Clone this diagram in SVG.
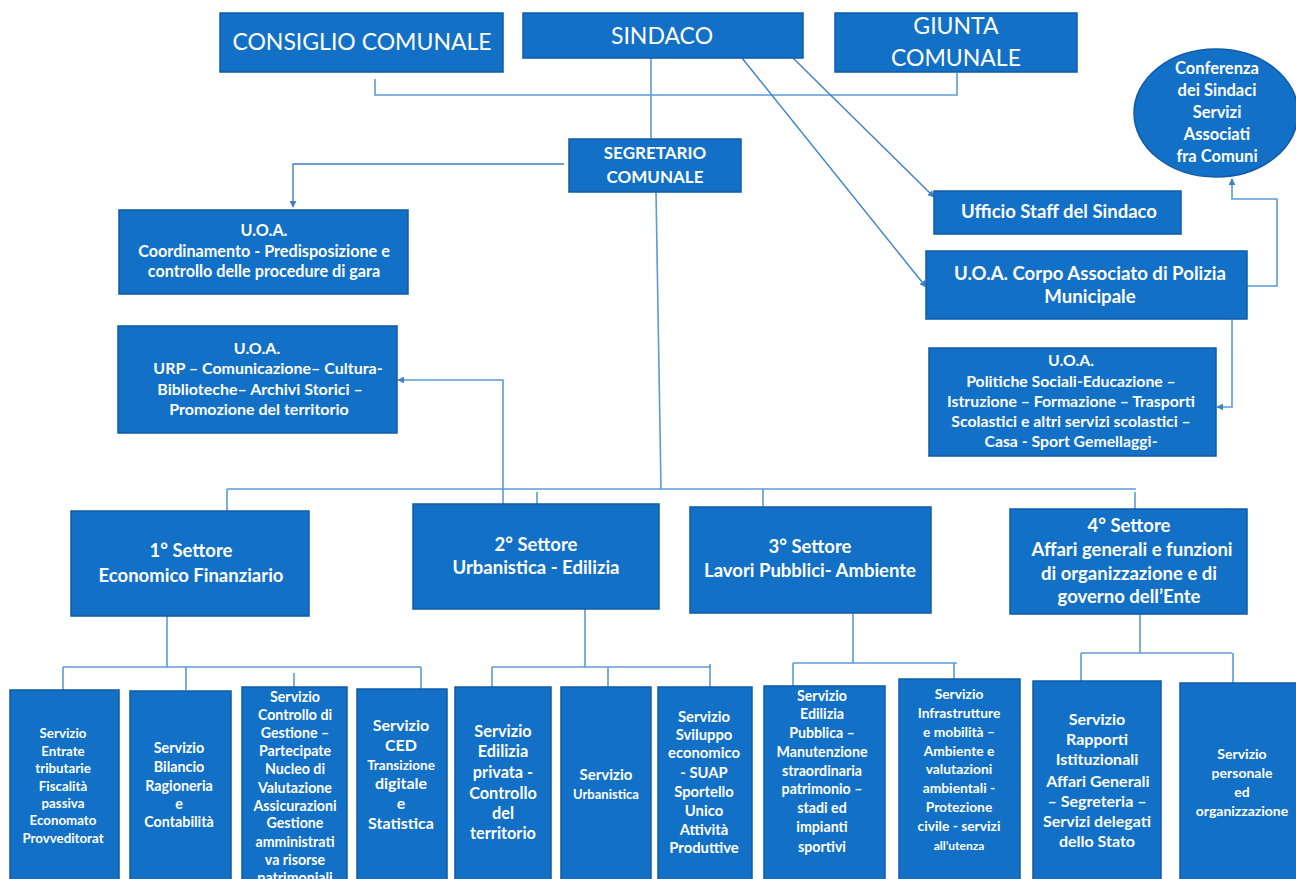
<svg xmlns="http://www.w3.org/2000/svg" width="1296" height="879" viewBox="0 0 1296 879">
<defs>
<marker id="arr" viewBox="0 0 10 10" refX="9" refY="5" markerWidth="7" markerHeight="7" markerUnits="userSpaceOnUse" orient="auto"><path d="M0,0 L10,5 L0,10 z" fill="#3f7fc6"/></marker>
<style>
.box{fill:#1270c6;stroke:#0f5ba6;stroke-width:1.5}
.t{font-family:Lato,"Open Sans","Liberation Sans",sans-serif;fill:#ffffff;text-anchor:middle}
.r{font-weight:normal}
.b{font-weight:bold}
.c{fill:none;stroke:#5b9bd5;stroke-width:1.6}
.a{fill:none;stroke:#3f7fc6;stroke-width:1.4}
</style>
</defs>
<rect width="1296" height="879" fill="#ffffff"/>
<g id="connectors">
<polyline class="c" points="375,79 375,95 957,95 957,73"/>
<line class="c" x1="651" y1="58" x2="651" y2="139"/>
<polyline class="a" points="564,164 293,164 293,207" marker-end="url(#arr)"/>
<line class="a" x1="793" y1="58" x2="934" y2="197" marker-end="url(#arr)"/>
<line class="a" x1="742" y1="58" x2="926" y2="287" marker-end="url(#arr)"/>
<polyline class="c" points="1247,286 1277,286 1277,199 1232,199 1232,179" marker-end="url(#arr)"/>
<polyline class="c" points="1232,319 1232,407 1217,407" marker-end="url(#arr)"/>
<line class="c" x1="656" y1="192" x2="661" y2="489"/>
<line class="c" x1="227" y1="489" x2="1136" y2="489"/>
<line class="c" x1="227" y1="489" x2="227" y2="511"/>
<line class="c" x1="763" y1="489" x2="763" y2="507"/>
<line class="c" x1="1135" y1="492" x2="1135" y2="509"/>
<line class="c" x1="537" y1="492" x2="537" y2="504"/>
<polyline class="c" points="503,504 503,380 398,380" marker-end="url(#arr)"/>
<line class="c" x1="167" y1="616" x2="167" y2="667"/>
<line class="c" x1="63" y1="667" x2="421" y2="667"/>
<line class="c" x1="63" y1="667" x2="63" y2="690"/>
<line class="c" x1="186" y1="667" x2="186" y2="690"/>
<line class="c" x1="421" y1="667" x2="421" y2="689"/>
<line class="c" x1="294" y1="673" x2="294" y2="687"/>
<line class="c" x1="585" y1="609" x2="585" y2="667"/>
<line class="c" x1="492" y1="667" x2="710" y2="667"/>
<line class="c" x1="492" y1="667" x2="492" y2="687"/>
<line class="c" x1="608" y1="667" x2="608" y2="687"/>
<line class="c" x1="710" y1="664" x2="710" y2="687"/>
<line class="c" x1="853" y1="613" x2="853" y2="663"/>
<line class="c" x1="793" y1="663" x2="957" y2="663"/>
<line class="c" x1="793" y1="663" x2="793" y2="686"/>
<line class="c" x1="954" y1="663" x2="954" y2="679"/>
<line class="c" x1="1140" y1="614" x2="1140" y2="653"/>
<line class="c" x1="1081" y1="653" x2="1232" y2="653"/>
<line class="c" x1="1081" y1="653" x2="1081" y2="681"/>
<line class="c" x1="1233" y1="653" x2="1233" y2="683"/>
</g>
<g id="consiglio">
<rect class="box" x="220" y="13" width="283" height="59"/>
<text class="t r" x="362" y="50" font-size="23">CONSIGLIO COMUNALE</text>
</g>
<g id="sindaco">
<rect class="box" x="523" y="13" width="280" height="45"/>
<text class="t r" x="662" y="44" font-size="23">SINDACO</text>
</g>
<g id="giunta">
<rect class="box" x="835" y="13" width="242" height="59"/>
<text class="t r" x="956" y="34" font-size="23">GIUNTA</text>
<text class="t r" x="956" y="66" font-size="23">COMUNALE</text>
</g>
<g id="segretario">
<rect class="box" x="569" y="139" width="172" height="53"/>
<text class="t b" x="655" y="159" font-size="17">SEGRETARIO</text>
<text class="t b" x="655" y="183" font-size="17">COMUNALE</text>
</g>
<g id="uoa-gara">
<rect class="box" x="119" y="210" width="289" height="84"/>
<text class="t b" x="264" y="236" font-size="16.2">U.O.A.</text>
<text class="t b" x="264" y="257" font-size="16.2">Coordinamento - Predisposizione e</text>
<text class="t b" x="264" y="277" font-size="16.2">controllo delle procedure di gara</text>
</g>
<g id="uoa-urp">
<rect class="box" x="118" y="326" width="279" height="107"/>
<text class="t b" x="257" y="354" font-size="16">U.O.A.</text>
<text class="t b" x="268" y="374" font-size="16">URP – Comunicazione– Cultura-</text>
<text class="t b" x="260" y="395" font-size="16">Biblioteche– Archivi Storici –</text>
<text class="t b" x="259" y="415" font-size="16">Promozione del territorio</text>
</g>
<g id="staff">
<rect class="box" x="934" y="191" width="247" height="43"/>
<text class="t b" x="1059" y="218" font-size="18.5">Ufficio Staff del Sindaco</text>
</g>
<g id="polizia">
<rect class="box" x="926" y="251" width="321" height="68"/>
<text class="t b" x="1090" y="280" font-size="18.6">U.O.A. Corpo Associato di Polizia</text>
<text class="t b" x="1090" y="303" font-size="18.6">Municipale</text>
</g>
<g id="conferenza">
<ellipse class="box" cx="1216" cy="113" rx="82" ry="64"/>
<text class="t b" x="1217" y="74" font-size="16.5">Conferenza</text>
<text class="t b" x="1217" y="96" font-size="16.5">dei Sindaci</text>
<text class="t b" x="1217" y="118" font-size="16.5">Servizi</text>
<text class="t b" x="1217" y="140" font-size="16.5">Associati</text>
<text class="t b" x="1217" y="162" font-size="16.5">fra Comuni</text>
</g>
<g id="politiche">
<rect class="box" x="929" y="348" width="287" height="108"/>
<text class="t b" x="1071" y="366" font-size="15.8">U.O.A.</text>
<text class="t b" x="1071" y="387" font-size="15.8">Politiche Sociali-Educazione –</text>
<text class="t b" x="1071" y="407" font-size="15.8">Istruzione – Formazione – Trasporti</text>
<text class="t b" x="1071" y="427" font-size="15.8">Scolastici e altri servizi scolastici  –</text>
<text class="t b" x="1071" y="447" font-size="15.8">Casa - Sport Gemellaggi-</text>
</g>
<g id="settore1">
<rect class="box" x="71" y="511" width="238" height="105"/>
<text class="t b" x="191" y="557" font-size="18.5">1° Settore</text>
<text class="t b" x="191" y="582" font-size="18.5">Economico Finanziario</text>
</g>
<g id="settore2">
<rect class="box" x="413" y="504" width="246" height="105"/>
<text class="t b" x="536" y="551" font-size="18.5">2° Settore</text>
<text class="t b" x="536" y="574" font-size="18.5">Urbanistica - Edilizia</text>
</g>
<g id="settore3">
<rect class="box" x="690" y="507" width="241" height="106"/>
<text class="t b" x="810" y="553" font-size="18.5">3° Settore</text>
<text class="t b" x="810" y="577" font-size="18.5">Lavori Pubblici- Ambiente</text>
</g>
<g id="settore4">
<rect class="box" x="1010" y="509" width="237" height="105"/>
<text class="t b" x="1129" y="532" font-size="18.5">4° Settore</text>
<text class="t b" x="1132" y="556" font-size="18.5">Affari generali e funzioni</text>
<text class="t b" x="1129" y="580" font-size="18.5">di organizzazione e di</text>
<text class="t b" x="1129" y="603" font-size="18.5">governo dell’Ente</text>
</g>
<g id="s-entrate">
<rect class="box" x="10" y="690" width="109" height="200"/>
<g class="t b" font-size="13.3">
<text x="63" y="738">Servizio</text>
<text x="63" y="756">Entrate</text>
<text x="63" y="773">tributarie</text>
<text x="63" y="791">Fiscalità</text>
<text x="63" y="808">passiva</text>
<text x="63" y="825">Economato</text>
<text x="63" y="843">Provveditorat</text>
</g>
</g>
<g id="s-bilancio">
<rect class="box" x="130" y="691" width="101" height="200"/>
<g class="t b" font-size="14.3">
<text x="179" y="753">Servizio</text>
<text x="179" y="772">Bilancio</text>
<text x="179" y="791">Ragioneria</text>
<text x="179" y="809">e</text>
<text x="179" y="827">Contabilità</text>
</g>
</g>
<g id="s-controllo">
<rect class="box" x="242" y="687" width="105" height="200"/>
<g class="t b" font-size="14.2">
<text x="295" y="702">Servizio</text>
<text x="295" y="720">Controllo di</text>
<text x="295" y="738">Gestione –</text>
<text x="295" y="756">Partecipate</text>
<text x="295" y="774">Nucleo di</text>
<text x="295" y="793">Valutazione</text>
<text x="295" y="811">Assicurazioni</text>
<text x="295" y="828">Gestione</text>
<text x="295" y="847">amministrati</text>
<text x="295" y="865">va risorse</text>
<text x="295" y="883">patrimoniali</text>
</g>
</g>
<g id="s-ced">
<rect class="box" x="357" y="689" width="90" height="200"/>
<g class="t b">
<text x="401" y="731" font-size="16">Servizio</text>
<text x="401" y="751" font-size="16">CED</text>
<text x="401" y="770" font-size="13.5">Transizione</text>
<text x="401" y="789" font-size="16">digitale</text>
<text x="401" y="809" font-size="16">e</text>
<text x="401" y="829" font-size="16">Statistica</text>
</g>
</g>
<g id="s-edilizia-privata">
<rect class="box" x="455" y="687" width="96" height="200"/>
<g class="t b" font-size="16.3">
<text x="503" y="737">Servizio</text>
<text x="503" y="757">Edilizia</text>
<text x="503" y="778">privata -</text>
<text x="503" y="799">Controllo</text>
<text x="503" y="819">del</text>
<text x="503" y="839">territorio</text>
</g>
</g>
<g id="s-urbanistica">
<rect class="box" x="561" y="687" width="90" height="200"/>
<g class="t b">
<text x="606" y="780" font-size="15">Servizio</text>
<text x="606" y="799" font-size="13">Urbanistica</text>
</g>
</g>
<g id="s-suap">
<rect class="box" x="658" y="687" width="94" height="200"/>
<g class="t b" font-size="14.8">
<text x="704" y="722">Servizio</text>
<text x="704" y="740">Sviluppo</text>
<text x="704" y="758">economico</text>
<text x="704" y="778">- SUAP</text>
<text x="704" y="797">Sportello</text>
<text x="704" y="816">Unico</text>
<text x="704" y="835">Attività</text>
<text x="704" y="853">Produttive</text>
</g>
</g>
<g id="s-edilizia-pubblica">
<rect class="box" x="764" y="686" width="121" height="200"/>
<g class="t b" font-size="14.2">
<text x="822" y="701">Servizio</text>
<text x="822" y="719">Edilizia</text>
<text x="822" y="738">Pubblica  –</text>
<text x="822" y="757">Manutenzione</text>
<text x="822" y="776">straordinaria</text>
<text x="822" y="794">patrimonio  –</text>
<text x="822" y="813">stadi ed</text>
<text x="822" y="832">impianti</text>
<text x="822" y="852">sportivi</text>
</g>
</g>
<g id="s-infrastrutture">
<rect class="box" x="899" y="679" width="121" height="210"/>
<g class="t b" font-size="13.8">
<text x="959" y="699">Servizio</text>
<text x="959" y="718">Infrastrutture</text>
<text x="959" y="737">e mobilità  –</text>
<text x="959" y="756">Ambiente e</text>
<text x="959" y="774">valutazioni</text>
<text x="959" y="793">ambientali  -</text>
<text x="959" y="812">Protezione</text>
<text x="959" y="831">civile  - servizi</text>
<text x="959" y="850" font-size="12">all’utenza</text>
</g>
</g>
<g id="s-rapporti">
<rect class="box" x="1033" y="681" width="128" height="210"/>
<g class="t b" font-size="16">
<text x="1097" y="725">Servizio</text>
<text x="1097" y="745">Rapporti</text>
<text x="1097" y="765">Istituzionali</text>
<text x="1098" y="787">Affari Generali</text>
<text x="1097" y="807">– Segreteria –</text>
<text x="1097" y="827">Servizi delegati</text>
<text x="1097" y="847">dello Stato</text>
</g>
</g>
<g id="s-personale">
<rect class="box" x="1180" y="683" width="125" height="210"/>
<g class="t b" font-size="14">
<text x="1242" y="759">Servizio</text>
<text x="1242" y="778">personale</text>
<text x="1242" y="797">ed</text>
<text x="1242" y="816">organizzazione</text>
</g>
</g>
</svg>
